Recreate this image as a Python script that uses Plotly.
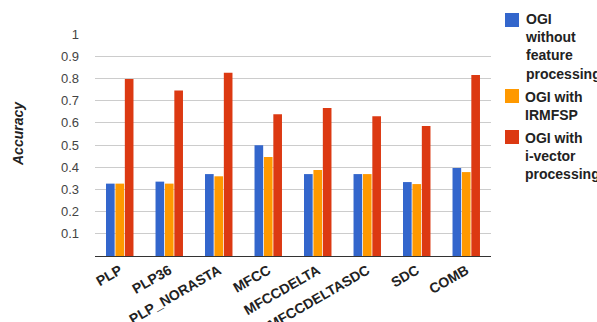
import plotly.graph_objects as go

categories = ["PLP", "PLP36", "PLP_NORASTA", "MFCC", "MFCCDELTA", "MFCCDELTASDC", "SDC", "COMB"]
without_fp = [0.326, 0.335, 0.369, 0.499, 0.369, 0.369, 0.333, 0.396]
with_irmfsp = [0.326, 0.326, 0.359, 0.446, 0.387, 0.369, 0.324, 0.378]
with_ivector = [0.797, 0.745, 0.826, 0.638, 0.667, 0.629, 0.586, 0.815]
series_names = ["OGI<br>without<br>feature<br>processing", "OGI with<br>IRMFSP", "OGI with<br>i-vector<br>processing"]
colors = ["#3366cc", "#ff9900", "#dc3912"]
y_ticks = [0.1, 0.2, 0.3, 0.4, 0.5, 0.6, 0.7, 0.8, 0.9, 1]

W, H = 597, 322
L, R, T, B = 95, 106, 34, 66
PW = W - L - R
PH = H - T - B


def px_x(x):
    return (x - L) / PW


def px_y(y):
    return (H - B - y) / PH


FONT = "Liberation Sans, Arial, sans-serif"

fig = go.Figure()
for name, vals, col in zip(series_names, [without_fp, with_irmfsp, with_ivector], colors):
    fig.add_trace(go.Bar(x=categories, y=vals, name=name.replace("<br>", " "),
                         marker=dict(color=col, line=dict(width=0))))

# custom legend (swatch + wrapped label)
legend_swatch_top = [13, 89, 130]
legend_text_top = [9.5, 86.5, 127.5]
shapes = []
annotations = []
for name, col, st, tt in zip(series_names, colors, legend_swatch_top, legend_text_top):
    shapes.append(dict(type="rect", xref="paper", yref="paper",
                       x0=px_x(505), x1=px_x(519), y0=px_y(st + 14), y1=px_y(st),
                       fillcolor=col, line=dict(width=0)))
    annotations.append(dict(text=f"<b>{name}</b>", xref="paper", yref="paper",
                            x=px_x(523), y=px_y(tt), xanchor="left", yanchor="top",
                            align="left", showarrow=False,
                            font=dict(size=14, color="#222", family=FONT)))

annotations.append(dict(text="<b><i>Accuracy</i></b>", xref="paper", yref="paper",
                        x=px_x(18), y=px_y(134), xanchor="center", yanchor="middle",
                        textangle=-90, showarrow=False,
                        font=dict(size=14, color="#222", family=FONT)))

fig.update_layout(
    width=W, height=H,
    margin=dict(l=L, r=R, t=T, b=B),
    paper_bgcolor="white", plot_bgcolor="white",
    barmode="group", bargap=0.43, bargroupgap=0.08,
    font=dict(family=FONT, color="#222"),
    showlegend=False,
    shapes=shapes,
    annotations=annotations,
    xaxis=dict(tickangle=-30, tickfont=dict(size=14, color="#222", weight="bold"),
               showline=True, linecolor="#333", linewidth=1, ticks="", showgrid=False,
               automargin=False),
    yaxis=dict(range=[0, 1.0], tickvals=y_ticks, ticktext=[str(v) for v in y_ticks],
               tickfont=dict(size=13, color="#444"), gridcolor="#cccccc", gridwidth=1,
               zeroline=False, ticks="", ticklabelstandoff=15, automargin=False),
)
fig.write_html("out.html")
